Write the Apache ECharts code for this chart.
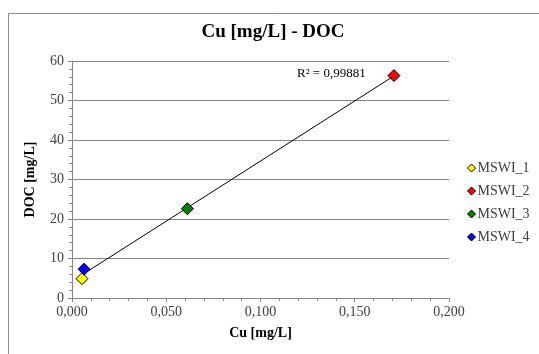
<!DOCTYPE html>
<html>
<head>
<meta charset="utf-8">
<script src="https://cdn.jsdelivr.net/npm/echarts@6/dist/echarts.min.js"></script>
<style>
    html, body { margin: 0; padding: 0; background: #fff; }
    #chart { width: 539px; height: 354px; }
</style>
</head>
<body>
<div id="chart"></div>
<script>
    // data
    const seriesNames = ['MSWI_1', 'MSWI_2', 'MSWI_3', 'MSWI_4'];
    const cuValues = [0.0053, 0.1708, 0.0612, 0.0064];
    const docValues = [4.9, 56.3, 22.6, 7.3];
    const colors = ['#FFFF00', '#FF0000', '#008000', '#0000FF'];
    const r2Label = 'R² = 0,99881';

    // linear trendline (least squares) over the data range
    const n = cuValues.length;
    const mx = cuValues.reduce((a, b) => a + b, 0) / n;
    const my = docValues.reduce((a, b) => a + b, 0) / n;
    let sxy = 0, sxx = 0;
    for (let i = 0; i < n; i++) {
        sxy += (cuValues[i] - mx) * (docValues[i] - my);
        sxx += (cuValues[i] - mx) * (cuValues[i] - mx);
    }
    const slope = sxy / sxx;
    const icpt = my - slope * mx;
    const xMin = Math.min(...cuValues), xMax = Math.max(...cuValues);
    const trend = [[xMin, icpt + slope * xMin], [xMax, icpt + slope * xMax]];

    const font = '"Liberation Serif", "DejaVu Serif", serif';
    const fmt = v => v.toFixed(3).replace('.', ',');

    let series = seriesNames.map((name, i) => ({
        name: name,
        type: 'scatter',
        symbol: 'diamond',
        symbolSize: 12,
        itemStyle: { color: colors[i], borderColor: '#000', borderWidth: 1, opacity: 1 },
        data: [[cuValues[i], docValues[i]]],
        z: 3
    }));
    series.unshift({
        name: 'trend',
        type: 'line',
        data: trend,
        symbol: 'none',
        lineStyle: { color: '#000', width: 1 },
        silent: true,
        z: 2
    });

    let myChart = echarts.init(document.getElementById('chart'));
    myChart.setOption({
        animation: false,
        textStyle: { fontFamily: font },
        title: {
            text: 'Cu [mg/L] - DOC',
            left: 268,
            textAlign: 'center',
            top: 18,
            textStyle: { fontFamily: font, fontSize: 19, fontWeight: 'bold', color: '#000' }
        },
        grid: { left: 72, right: 90, top: 61, bottom: 56 },
        legend: {
            data: seriesNames.map((name, i) => ({ name: name, icon: 'diamond' })),
            orient: 'vertical',
            left: 462,
            top: 156,
            itemWidth: 8,
            itemHeight: 8,
            itemGap: 9,
            itemStyle: { borderColor: '#000', borderWidth: 1 },
            textStyle: { fontFamily: font, fontSize: 14, color: '#404040', padding: [0, 0, 0, -3] }
        },
        xAxis: {
            type: 'value',
            min: 0,
            max: 0.2,
            interval: 0.05,
            name: 'Cu [mg/L]',
            nameLocation: 'middle',
            nameGap: 28,
            nameTextStyle: { fontFamily: font, fontSize: 14, fontWeight: 'bold', color: '#000' },
            axisLine: { show: true, onZero: false, lineStyle: { color: '#868686' } },
            axisTick: { show: true, length: 4, lineStyle: { color: '#868686' } },
            minorTick: { show: true, splitNumber: 5, length: 3, lineStyle: { color: '#868686' } },
            axisLabel: { formatter: fmt, fontFamily: font, fontSize: 14, color: '#404040', margin: 7 },
            splitLine: { show: false }
        },
        yAxis: {
            type: 'value',
            min: 0,
            max: 60,
            interval: 10,
            name: 'DOC [mg/L]',
            nameLocation: 'middle',
            nameGap: 35,
            nameTextStyle: { fontFamily: font, fontSize: 14, fontWeight: 'bold', color: '#000' },
            axisLine: { show: true, lineStyle: { color: '#868686' } },
            axisTick: { show: true, length: 4, lineStyle: { color: '#868686' } },
            minorTick: { show: true, splitNumber: 5, length: 3, lineStyle: { color: '#868686' } },
            axisLabel: { fontFamily: font, fontSize: 14, color: '#404040', margin: 8 },
            splitLine: { show: true, lineStyle: { color: '#868686', width: 1 } }
        },
        graphic: [
            {
                type: 'rect',
                shape: { x: 8.5, y: 13.5, width: 540, height: 350 },
                style: { fill: 'none', stroke: '#8c8c8c', lineWidth: 1 },
                silent: true
            },
            {
                type: 'text',
                left: 297,
                top: 67,
                style: { text: r2Label, font: '13px ' + font, fill: '#000' }
            }
        ],
        series: series
    });
</script>
</body>
</html>
